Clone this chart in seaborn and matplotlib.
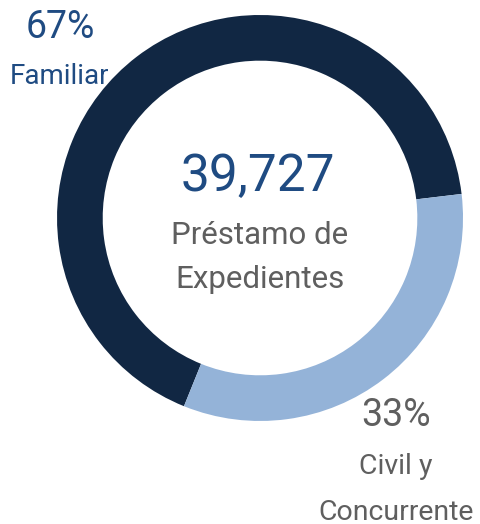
import matplotlib
matplotlib.use("Agg")
import matplotlib.pyplot as plt
import seaborn as sns

# Data
categories = ["Familiar", "Civil y\nConcurrente"]
shares = [67, 33]
total = "39,727"
center_label = "Préstamo de\nExpedientes"

colors = ["#112743", "#94b3d8"]
blue = "#1f4b82"
gray = "#5f5f5f"

sns.set_theme(style="white")
plt.rcParams["font.family"] = ["Roboto", "DejaVu Sans"]

fig = plt.figure(figsize=(4.8, 5.24), dpi=100)
ax = fig.add_axes([0.1188, 0.1966, 0.8458, 0.7748])

ax.pie(shares, colors=colors, startangle=248, counterclock=False, radius=1,
       wedgeprops=dict(width=0.225, linewidth=0))
ax.set_xlim(-1, 1)
ax.set_ylim(-1, 1)
ax.set_aspect("equal")
ax.axis("off")


def put(x, y, s, size, color):
    fig.text(x / 480, 1 - y / 524, s, ha="center", va="center", fontsize=size, color=color)


# center text
put(258, 177, total, 37, blue)
for i, line in enumerate(center_label.split("\n")):
    put(260, 235 + 45 * i, line, 22.5, gray)

# slice labels
put(60, 28, f"{shares[0]}%", 27, blue)
put(60, 77, categories[0], 20, blue)
put(396, 415, f"{shares[1]}%", 27, gray)
for i, line in enumerate(categories[1].split("\n")):
    put(396, 467 + 45 * i, line, 20.5, gray)

fig.savefig("out.png", dpi=100)
